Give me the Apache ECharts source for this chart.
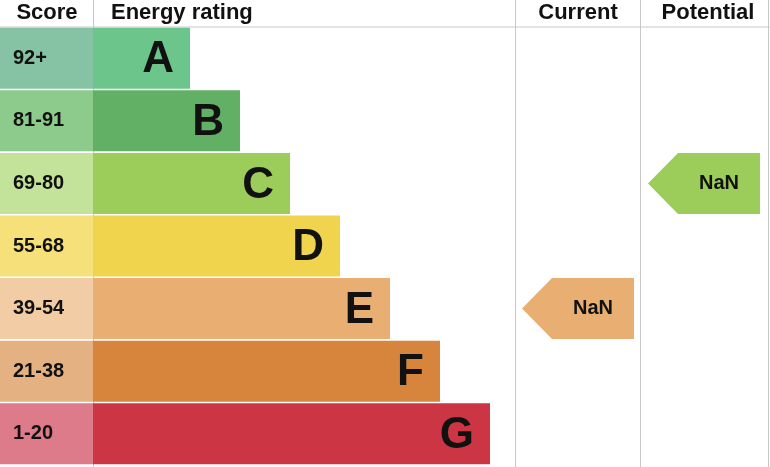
<!DOCTYPE html><html><head><meta charset="utf-8">
<script src="https://cdn.jsdelivr.net/npm/echarts@6/dist/echarts.min.js"></script>
<style>html,body{margin:0;padding:0;background:#fff}#c{width:770px;height:467px}</style></head><body><div id="c"></div>
<script>
const letters=['A','B','C','D','E','F','G'];
const scores=['92+','81-91','69-80','55-68','39-54','21-38','1-20'];
const barEnds=[190,240,290,340,390,440,490];
const barColors=['#6cc68b','#61b066','#9ccc5a','#f0d44e','#e9ae72','#d7853d','#cc3644'];
const scoreColors=['#86c3a4','#8ccb8b','#c3e39a','#f6e07a','#f1cca5','#e4b183','#dd7b8b'];
const current=[51,'E'];
const potential=[71,'C'];
const F='"Liberation Sans", Arial, sans-serif';
const chart=echarts.init(document.getElementById('c'));
function arrow(x0,x1,label){
  return function(params,api){
    const row=api.value(0);
    const c=api.coord([0,row]);
    const h=api.size([0,1])[1];
    const top=c[1]-h/2+0.8, bot=c[1]+h/2-0.8;
    const a=api.coord([x0,row])[0], b=api.coord([x1,row])[0];
    return {type:'group',children:[
      {type:'polygon',shape:{points:[[a,c[1]],[a+30,top],[b,top],[b,bot],[a+30,bot]]},style:{fill:api.value(2)}},
      {type:'text',style:{text:api.value(1),x:(a+30+b)/2,y:c[1],align:'center',verticalAlign:'middle',font:'bold 20px '+F,fill:'#111'}}
    ]};
  };
}
const rows=letters.map((l,i)=>[i,barEnds[i],scores[i],l]);
const ci=letters.indexOf(current[1]), pi=letters.indexOf(potential[1]);
chart.setOption({
  animation:false,
  grid:{left:0,right:0,top:27,bottom:2},
  xAxis:{type:'value',min:0,max:770,show:false},
  yAxis:{type:'category',data:letters,inverse:true,show:false},
  graphic:[
    {type:'line',shape:{x1:0,y1:27,x2:770,y2:27},style:{stroke:'#c8c8c8',lineWidth:1}},
    ...[93,515,640,768].map(x=>({type:'line',shape:{x1:x+0.5,y1:0,x2:x+0.5,y2:467},style:{stroke:'#c8c8c8',lineWidth:1}})),
    {type:'text',style:{text:'Score',x:47,y:13,align:'center',verticalAlign:'middle',font:'bold 22px '+F,fill:'#111'}},
    {type:'text',style:{text:'Energy rating',x:111,y:13,align:'left',verticalAlign:'middle',font:'bold 22px '+F,fill:'#111'}},
    {type:'text',style:{text:'Current',x:578,y:13,align:'center',verticalAlign:'middle',font:'bold 22px '+F,fill:'#111'}},
    {type:'text',style:{text:'Potential',x:708,y:13,align:'center',verticalAlign:'middle',font:'bold 22px '+F,fill:'#111'}}
  ],
  series:[
    {type:'custom',data:rows,renderItem:function(params,api){
      const i=api.value(0);
      const c=api.coord([0,i]);
      const h=api.size([0,1])[1];
      const top=c[1]-h/2+0.8, hh=h-1.6;
      const x93=api.coord([93,i])[0], xe=api.coord([api.value(1),i])[0];
      return {type:'group',children:[
        {type:'rect',shape:{x:c[0],y:top,width:x93-c[0],height:hh},style:{fill:scoreColors[i]}},
        {type:'rect',shape:{x:x93,y:top,width:xe-x93,height:hh},style:{fill:barColors[i]}},
        {type:'text',style:{text:api.value(2),x:13,y:c[1],align:'left',verticalAlign:'middle',font:'bold 20px '+F,fill:'#111'}},
        {type:'text',style:{text:api.value(3),x:xe-16,y:c[1]+2,align:'right',verticalAlign:'middle',font:'bold 44px '+F,fill:'#111'}}
      ]};
    }},
    {type:'custom',data:[[ci,current[0]+'  '+current[1],barColors[ci]]],renderItem:arrow(522,634)},
    {type:'custom',data:[[pi,potential[0]+'  '+potential[1],barColors[pi]]],renderItem:arrow(648,760)}
  ]
});
</script></body></html>
